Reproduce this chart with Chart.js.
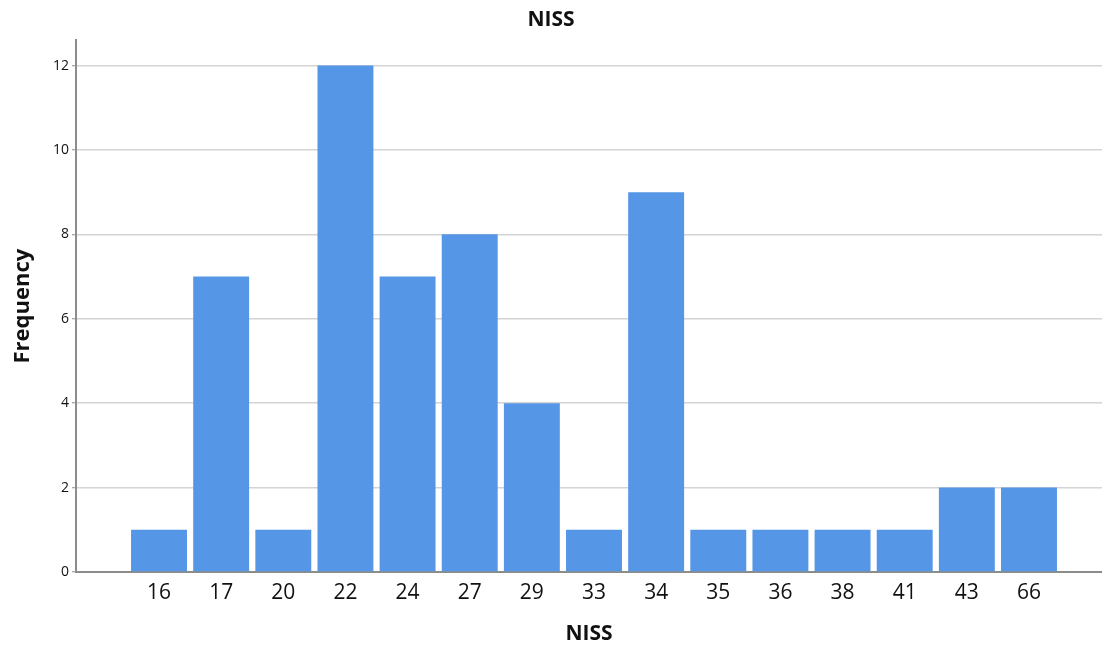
<!DOCTYPE html>
<html>
<head>
<meta charset="utf-8">
<script src="https://cdn.jsdelivr.net/npm/chart.js@4/dist/chart.umd.min.js"></script>
<style>
  html, body { margin: 0; padding: 0; background: #ffffff; }
  #wrap { width: 1102px; height: 648px; }
</style>
</head>
<body>
<div id="wrap"><canvas id="c" width="1102" height="648"></canvas></div>
<script>
const categories = ['16', '17', '20', '22', '24', '27', '29', '33', '34', '35', '36', '38', '41', '43', '66'];
const frequencies = [1, 7, 1, 12, 7, 8, 4, 1, 9, 1, 1, 1, 1, 2, 2];
const yTicks = [0, 2, 4, 6, 8, 10, 12];

const FONT = "'Open Sans', 'Liberation Sans', sans-serif";
const points = categories.map((c, i) => ({ x: i + 1, y: frequencies[i] }));

new Chart(document.getElementById('c'), {
  type: 'bar',
  data: {
    datasets: [{
      data: points,
      backgroundColor: '#5596e6',
      borderWidth: 0,
      categoryPercentage: 1.0,
      barPercentage: 0.9
    }]
  },
  options: {
    responsive: false,
    animation: false,
    devicePixelRatio: 1,
    layout: { padding: 0 },
    plugins: {
      legend: { display: false },
      tooltip: { enabled: false },
      title: {
        display: true,
        text: 'NISS',
        color: '#111111',
        font: { family: FONT, size: 21, weight: 'bold', lineHeight: 1.2 },
        padding: { top: 7, bottom: 8 }
      }
    },
    scales: {
      x: {
        type: 'linear',
        offset: false,
        min: -0.336,
        max: 16.175,
        afterBuildTicks: (axis) => { axis.ticks = categories.map((c, i) => ({ value: i + 1 })); },
        afterFit: (scale) => { scale.height = 76; },
        grid: { display: false, drawTicks: false, offset: false },
        border: { display: true, color: '#8c8c8c', width: 2 },
        ticks: {
          autoSkip: false,
          maxRotation: 0,
          padding: 8,
          color: '#111111',
          font: { family: FONT, size: 21 },
          callback: (v) => categories[v - 1]
        },
        title: {
          display: true,
          text: 'NISS',
          color: '#111111',
          font: { family: FONT, size: 21, weight: 'bold', lineHeight: 1.2 },
          padding: { top: 0, bottom: 1 }
        }
      },
      y: {
        min: 0,
        max: 12.6,
        afterBuildTicks: (axis) => { axis.ticks = yTicks.map(v => ({ value: v })); },
        afterFit: (scale) => { scale.width = 76; },
        grid: {
          color: '#d4d4d4',
          lineWidth: 1.5,
          drawTicks: true,
          tickLength: 4,
          tickColor: '#8c8c8c',
          tickWidth: 1
        },
        border: { display: true, color: '#8c8c8c', width: 2 },
        ticks: {
          padding: 3,
          color: '#111111',
          font: { family: FONT, size: 14 }
        },
        title: {
          display: true,
          text: 'Frequency',
          color: '#111111',
          font: { family: FONT, size: 22, weight: 'bold', lineHeight: 1.2 },
          padding: { top: 10, bottom: 0 }
        }
      }
    }
  }
});
</script>
</body>
</html>
